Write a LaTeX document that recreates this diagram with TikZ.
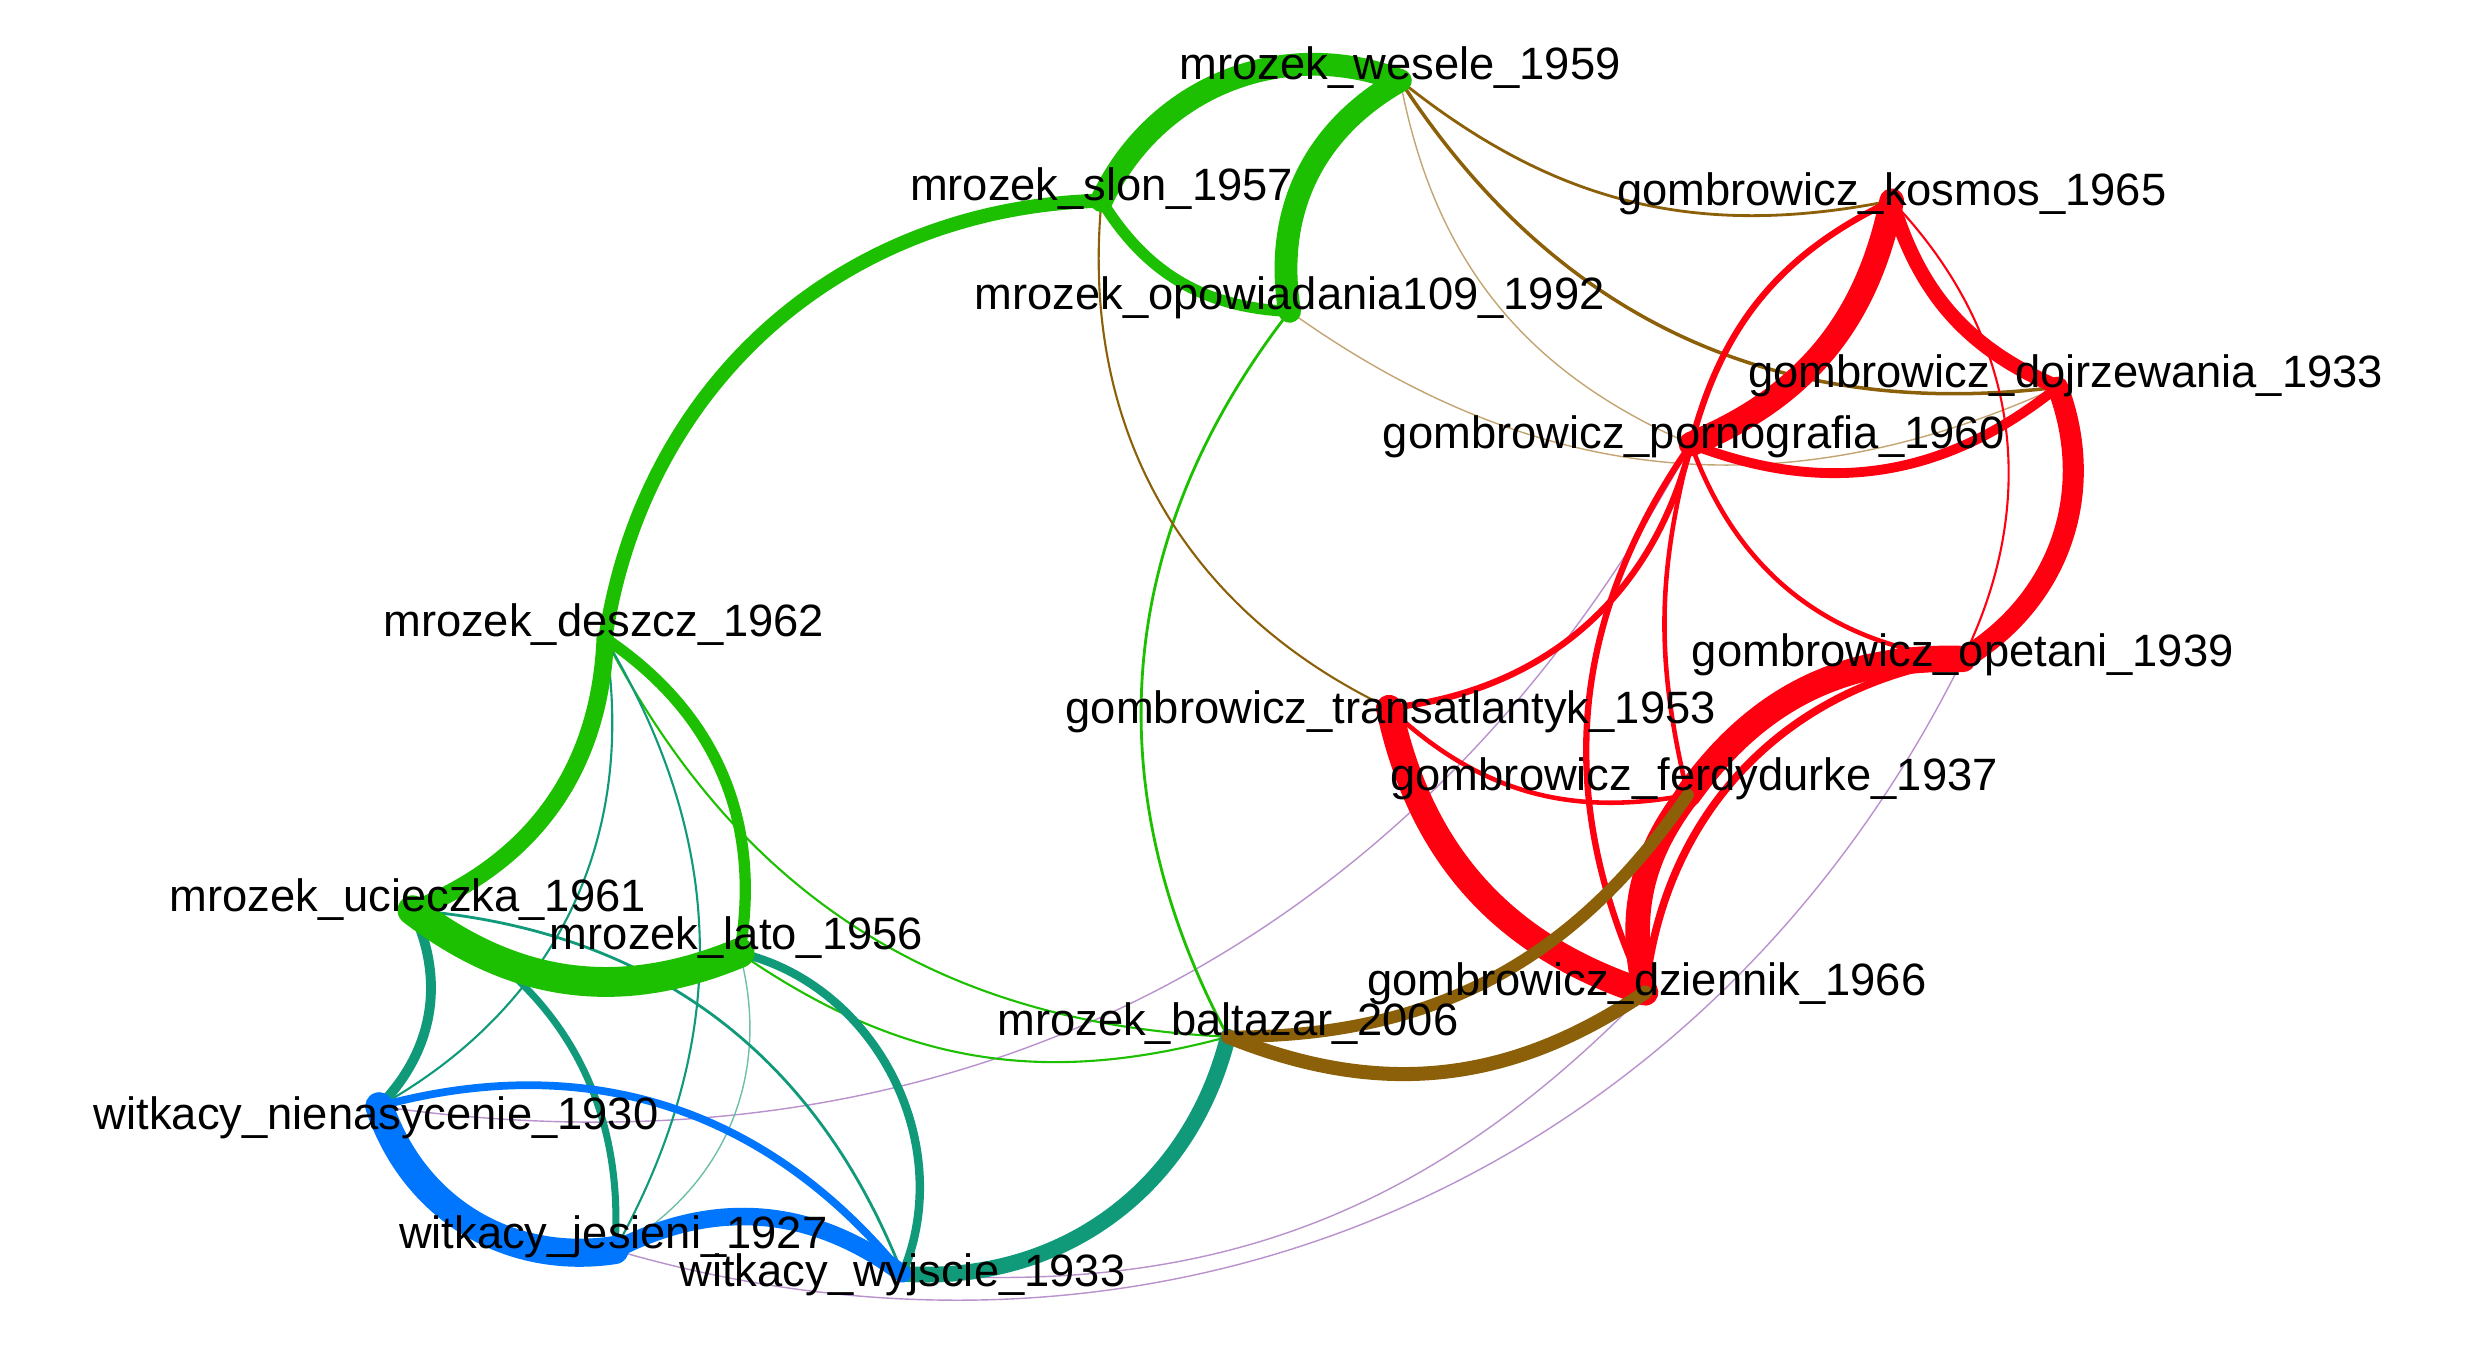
\documentclass[tikz,border=0pt]{standalone}
\usepackage{fontspec}
\setmainfont{Liberation Sans}
\definecolor{gr}{RGB}{29,192,0}
\definecolor{tl}{RGB}{16,154,122}
\definecolor{tll}{RGB}{110,190,170}
\definecolor{bl}{RGB}{0,118,255}
\definecolor{br}{RGB}{140,96,8}
\definecolor{brl}{RGB}{195,165,115}
\definecolor{rd}{RGB}{255,0,16}
\definecolor{pu}{RGB}{185,145,205}
\tikzset{
  lbl/.style={anchor=base, inner sep=0pt, font=\fontsize{12.9pt}{15pt}\selectfont},
  dot/.style={circle, inner sep=0pt, minimum size=0.11cm},
  edge/.style={line cap=round},
}
\begin{document}
\begin{tikzpicture}[x=0.015804cm, y=0.015804cm]
\useasboundingbox (0,0) rectangle (1568,-854);
% vertices
\node[dot, fill=gr] (wesele) at (886,-51) {};
\node[dot, fill=gr] (slon) at (697,-127) {};
\node[dot, fill=gr] (opowiadania) at (816,-197) {};
\node[dot, fill=rd] (kosmos) at (1197,-127) {};
\node[dot, fill=rd] (dojrzewania) at (1302,-245) {};
\node[dot, fill=rd] (pornografia) at (1070,-281) {};
\node[dot, fill=rd] (opetani) at (1242,-417) {};
\node[dot, fill=rd] (transatlantyk) at (879,-448) {};
\node[dot, fill=rd] (ferdydurke) at (1068,-503) {};
\node[dot, fill=rd] (dziennik) at (1041,-628) {};
\node[dot, fill=gr] (baltazar) at (777,-656) {};
\node[dot, fill=gr] (deszcz) at (383,-404) {};
\node[dot, fill=gr] (ucieczka) at (261,-576) {};
\node[dot, fill=gr] (lato) at (468,-603) {};
\node[dot, fill=bl] (nienasycenie) at (240,-700) {};
\node[dot, fill=bl] (jesieni) at (389,-791) {};
\node[dot, fill=bl] (wyjscie) at (571,-806) {};

% thin edges
\draw[edge, pu, line width=0.4pt] (nienasycenie.center) to[bend right=35] (pornografia.center);
\draw[edge, pu, line width=0.4pt] (wyjscie.center) to[bend right=25] (dziennik.center);
\draw[edge, pu, line width=0.4pt] (jesieni.center) to[bend right=40] (opetani.center);
\draw[edge, brl, line width=0.4pt] (wesele.center) to[bend right=28] (pornografia.center);
\draw[edge, brl, line width=0.4pt] (opowiadania.center) to[bend right=30] (dojrzewania.center);
\draw[edge, tll, line width=0.4pt] (lato.center) to[bend left=38] (jesieni.center);
\draw[edge, gr, line width=0.8pt] (opowiadania.center) to[bend right=33] (baltazar.center);
\draw[edge, gr, line width=0.6pt] (deszcz.center) to[bend right=30] (baltazar.center);
\draw[edge, gr, line width=0.6pt] (lato.center) to[bend right=25] (baltazar.center);
\draw[edge, tl, line width=0.8pt] (ucieczka.center) to[bend left=32] (wyjscie.center);
\draw[edge, tl, line width=0.6pt] (deszcz.center) to[bend left=35] (nienasycenie.center);
\draw[edge, tl, line width=0.6pt] (deszcz.center) to[bend left=30] (jesieni.center);
\draw[edge, br, line width=0.8pt] (wesele.center) to[bend right=25] (kosmos.center);
\draw[edge, br, line width=1pt] (wesele.center) to[bend right=32] (dojrzewania.center);
\draw[edge, br, line width=0.6pt] (slon.center) to[bend right=35] (transatlantyk.center);
\draw[edge, rd, line width=0.6pt] (kosmos.center) to[bend left=35] (opetani.center);

% medium and thick edges
\draw[edge, tl, line width=2.8pt] (ucieczka.center) to[bend left=35] (nienasycenie.center);
\draw[edge, tl, line width=2pt] (ucieczka.center) to[bend left=35] (jesieni.center);
\draw[edge, tl, line width=2.4pt] (lato.center) to[bend left=50] (wyjscie.center);
\draw[edge, tl, line width=4.5pt] (baltazar.center) to[bend left=40] (wyjscie.center);
\draw[edge, bl, line width=2.2pt] (nienasycenie.center) to[bend left=33] (wyjscie.center);
\draw[edge, bl, line width=5pt] (jesieni.center) to[bend left=32] (wyjscie.center);
\draw[edge, bl, line width=8pt] (nienasycenie.center) to[bend right=40] (jesieni.center);

\draw[edge, gr, line width=3.2pt] (slon.center) to[bend right=28] (opowiadania.center);
\draw[edge, gr, line width=4pt] (deszcz.center) to[bend left=40] (slon.center);
\draw[edge, gr, line width=5pt] (deszcz.center) to[bend left=33] (ucieczka.center);
\draw[edge, gr, line width=3.2pt] (deszcz.center) to[bend left=33] (lato.center);
\draw[edge, gr, line width=8.5pt] (ucieczka.center) to[bend right=30] (lato.center);
\draw[edge, gr, line width=6.5pt] (slon.center) to[bend left=43] (wesele.center);
\draw[edge, gr, line width=6.5pt] (opowiadania.center) to[bend left=35] (wesele.center);

\draw[edge, rd, line width=1.8pt] (kosmos.center) to[bend right=25] (pornografia.center);
\draw[edge, rd, line width=4.2pt] (kosmos.center) to[bend right=25] (dojrzewania.center);
\draw[edge, rd, line width=2.8pt] (pornografia.center) to[bend right=30] (dojrzewania.center);
\draw[edge, rd, line width=1.3pt] (pornografia.center) to[bend right=32] (opetani.center);
\draw[edge, rd, line width=1.8pt] (pornografia.center) to[bend left=35] (transatlantyk.center);
\draw[edge, rd, line width=1.3pt] (pornografia.center) to[bend right=14] (ferdydurke.center);
\draw[edge, rd, line width=1.8pt] (pornografia.center) to[bend right=30] (dziennik.center);
\draw[edge, rd, line width=1.3pt] (transatlantyk.center) to[bend right=27] (ferdydurke.center);
\draw[edge, rd, line width=2.2pt] (opetani.center) to[bend right=38] (dziennik.center);
\draw[edge, rd, line width=6pt] (dojrzewania.center) to[bend left=40] (opetani.center);
\draw[edge, rd, line width=7pt] (kosmos.center) to[bend left=28] (pornografia.center);
\draw[edge, rd, line width=7.5pt] (transatlantyk.center) to[bend right=30] (dziennik.center);
\draw[edge, rd, line width=7.5pt] (opetani.center) to[bend right=28] (ferdydurke.center);
\draw[edge, rd, line width=7pt] (ferdydurke.center) to[bend right=25] (dziennik.center);

\draw[edge, br, line width=4pt] (baltazar.center) to[bend right=28] (dziennik.center);
\draw[edge, br, line width=3.5pt] (baltazar.center) to[bend right=28] (ferdydurke.center);

% labels
\node[lbl] (wesele-l) at (886,-50) {mrozek\_wesele\_1959};
\node[lbl] (slon-l) at (697,-127) {mrozek\_slon\_1957};
\node[lbl] (opowiadania-l) at (816,-196) {mrozek\_opowiadania109\_1992};
\node[lbl] (kosmos-l) at (1197,-130) {gombrowicz\_kosmos\_1965};
\node[lbl] (dojrzewania-l) at (1307,-245) {gombrowicz\_dojrzewania\_1933};
\node[lbl] (pornografia-l) at (1072,-284) {gombrowicz\_pornografia\_1960};
\node[lbl] (opetani-l) at (1242,-422) {gombrowicz\_opetani\_1939};
\node[lbl] (transatlantyk-l) at (880,-458) {gombrowicz\_transatlantyk\_1953};
\node[lbl] (ferdydurke-l) at (1072,-500) {gombrowicz\_ferdydurke\_1937};
\node[lbl] (dziennik-l) at (1042,-630) {gombrowicz\_dziennik\_1966};
\node[lbl] (baltazar-l) at (777,-655) {mrozek\_baltazar\_2006};
\node[lbl] (deszcz-l) at (382,-403) {mrozek\_deszcz\_1962};
\node[lbl] (ucieczka-l) at (258,-577) {mrozek\_ucieczka\_1961};
\node[lbl] (lato-l) at (466,-601) {mrozek\_lato\_1956};
\node[lbl] (nienasycenie-l) at (238,-715) {witkacy\_nienasycenie\_1930};
\node[lbl] (jesieni-l) at (388,-790) {witkacy\_jesieni\_1927};
\node[lbl] (wyjscie-l) at (571,-814) {witkacy\_wyjscie\_1933};
\end{tikzpicture}
\end{document}
